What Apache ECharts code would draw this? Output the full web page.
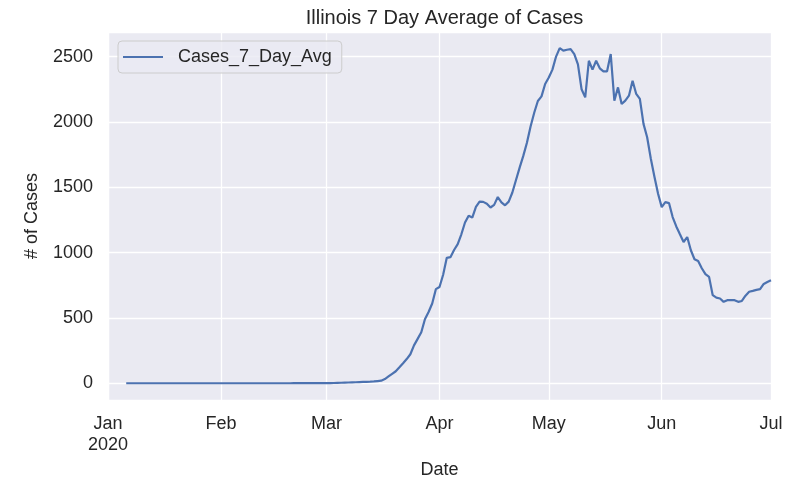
<!DOCTYPE html>
<html>
<head>
<meta charset="utf-8">
<script src="https://cdn.jsdelivr.net/npm/echarts@6/dist/echarts.min.js"></script>
<style>
  html, body { margin: 0; padding: 0; background: #fff; }
  #main { width: 806px; height: 488px; }
</style>
</head>
<body>
<div id="main"></div>
<script>
// 7 day average of cases, one value per day, first value is Jan 6 2020
var janVals = [0, 0, 0, 0, 0, 0, 0, 0, 0, 0, 0, 0, 0, 0, 0, 0, 0, 0,
  0.1, 0.1, 0.3, 0.3, 0.3, 0.3, 0.3, 0.3];
var febVals = [0.3, 0.3, 0.3, 0.3, 0.3, 0.3, 0.3, 0.3, 0.3, 0.3, 0.3, 0.3, 0.3, 0.3, 0.3,
  0.3, 0.3, 0.3, 0.3, 0.3, 0.4, 0.4, 0.4, 0.4, 0.4, 0.4, 0.4, 0.4, 0.4];
var marVals = [1, 1, 2, 3, 4, 5, 6, 7, 8, 9, 10, 11, 12, 14, 17, 20, 32, 52, 72, 92,
  122, 153, 185, 222, 290, 340, 390, 490, 545, 610, 720];
var aprVals = [737, 830, 960, 965, 1020, 1065, 1140, 1230, 1282, 1268, 1350, 1390, 1388,
  1374, 1345, 1365, 1425, 1385, 1362, 1390, 1460, 1555, 1650, 1740, 1840, 1965, 2070,
  2160, 2195, 2290];
var mayVals = [2340, 2400, 2500, 2565, 2545, 2552, 2557, 2519, 2440, 2250, 2188, 2468,
  2400, 2468, 2410, 2387, 2387, 2519, 2163, 2264, 2137, 2163, 2201, 2315, 2214, 2176,
  1985, 1883, 1720, 1580, 1450];
var junVals = [1348, 1386, 1379, 1272, 1200, 1140, 1081, 1119, 1018, 949, 935, 880, 835,
  814, 674, 655, 649, 623, 636, 636, 636, 623, 630, 670, 700, 707, 715, 720, 760, 775];
var julVals = [789];

var monthNames = ['Jan', 'Feb', 'Mar', 'Apr', 'May', 'Jun', 'Jul'];

var FONT = "'Liberation Sans', Arial, sans-serif";
var TEXT = '#262626';

// turn the month arrays into [date, value] pairs
var data = [];
var months = [janVals, febVals, marVals, aprVals, mayVals, junVals, julVals];
months.forEach(function (vals, m) {
  var firstDay = m === 0 ? 6 : 1;
  vals.forEach(function (v, i) {
    data.push([new Date(2020, m, firstDay + i).getTime(), v]);
  });
});

var chart = echarts.init(document.getElementById('main'));

chart.setOption({
  animation: false,
  textStyle: { fontFamily: FONT },
  title: {
    text: 'Illinois 7 Day Average of Cases',
    left: 439.5,
    textAlign: 'center',
    top: 3,
    textStyle: { fontFamily: FONT, fontSize: 20, fontWeight: 'normal', color: TEXT }
  },
  legend: {
    left: 118,
    top: 41,
    orient: 'vertical',
    icon: 'rect',
    itemWidth: 40,
    itemHeight: 2,
    padding: [7, 10, 7, 5],
    backgroundColor: 'rgba(234,234,242,0.8)',
    borderColor: '#cccccc',
    borderWidth: 1,
    borderRadius: 4,
    textStyle: { fontFamily: FONT, fontSize: 18, color: TEXT, padding: [0, 0, 0, 10] }
  },
  grid: {
    left: 108,
    right: 35,
    top: 32,
    bottom: 88,
    show: true,
    backgroundColor: '#eaeaf2',
    borderWidth: 0
  },
  xAxis: {
    type: 'time',
    min: new Date(2020, 0, 1).getTime(),
    max: new Date(2020, 6, 1).getTime(),
    splitNumber: 6,
    name: 'Date',
    nameLocation: 'middle',
    nameGap: 58,
    nameTextStyle: { fontFamily: FONT, fontSize: 18, color: TEXT },
    axisLine: { show: false },
    axisTick: { show: false },
    axisLabel: {
      fontFamily: FONT,
      fontSize: 18,
      color: TEXT,
      margin: 14,
      lineHeight: 21,
      hideOverlap: false,
      showMinLabel: true,
      showMaxLabel: true,
      formatter: function (v) {
        var d = new Date(v);
        if (d.getDate() !== 1) return '';
        var s = monthNames[d.getMonth()];
        if (d.getMonth() === 0) s += '\n2020';
        return s;
      }
    },
    splitLine: { show: true, lineStyle: { color: '#ffffff', width: 1.3 } }
  },
  yAxis: {
    type: 'value',
    min: -128,
    max: 2688,
    splitNumber: 5,
    name: '# of Cases',
    nameLocation: 'middle',
    nameGap: 67,
    nameTextStyle: { fontFamily: FONT, fontSize: 18, color: TEXT },
    axisLine: { show: false },
    axisTick: { show: false },
    axisLabel: {
      fontFamily: FONT,
      fontSize: 18,
      color: TEXT,
      margin: 15,
      formatter: function (v) {
        return v % 500 === 0 ? String(v) : '';
      }
    },
    splitLine: { show: true, lineStyle: { color: '#ffffff', width: 1.3 } }
  },
  series: [{
    name: 'Cases_7_Day_Avg',
    type: 'line',
    symbol: 'none',
    data: data,
    lineStyle: { color: '#4c72b0', width: 2.2 },
    itemStyle: { color: '#4c72b0' }
  }]
});
</script>
</body>
</html>
